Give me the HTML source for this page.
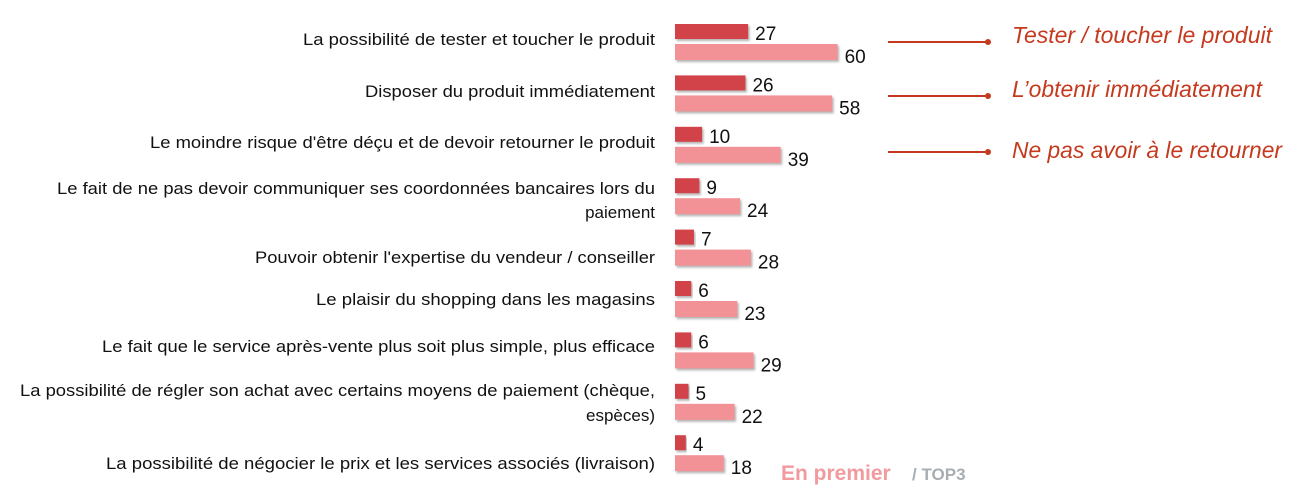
<!DOCTYPE html>
<html><head><meta charset="utf-8"><style>
html,body{margin:0;padding:0;background:#fff;}
svg{display:block;font-family:"Liberation Sans",Arial,sans-serif;}
</style></head><body>
<svg id="chart" width="1308" height="496" viewBox="0 0 1308 496">
<defs><filter id="sh" x="-5%" y="-20%" width="115%" height="160%"><feDropShadow dx="1.5" dy="2" stdDeviation="1" flood-color="#777" flood-opacity="0.55"/></filter></defs>
<g id="labels"></g><g id="bars"></g>
<g fill="#c53a1e" stroke="#c53a1e">
<line x1="888" y1="42" x2="988" y2="42" stroke-width="2"/><circle cx="988" cy="42" r="3" stroke="none"/>
<text x="1012" y="43" font-size="23" font-style="italic" stroke="none" textLength="260" lengthAdjust="spacingAndGlyphs">Tester / toucher le produit</text>
<line x1="888" y1="96" x2="988" y2="96" stroke-width="2"/><circle cx="988" cy="96" r="3" stroke="none"/>
<text x="1012" y="97" font-size="23" font-style="italic" stroke="none" textLength="250" lengthAdjust="spacingAndGlyphs">L’obtenir immédiatement</text>
<line x1="888" y1="152" x2="988" y2="152" stroke-width="2"/><circle cx="988" cy="152" r="3" stroke="none"/>
<text x="1012" y="158" font-size="23" font-style="italic" stroke="none" textLength="270" lengthAdjust="spacingAndGlyphs">Ne pas avoir à le retourner</text>
</g>
<g font-weight="bold">
<text x="781" y="480" font-size="21" fill="#f29a9e">En premier</text>
<text x="912" y="480" font-size="17" fill="#a8adb3">/ TOP3</text>
</g>
</svg>
<script>
const categories=[
["La possibilité de tester et toucher le produit"],
["Disposer du produit immédiatement"],
["Le moindre risque d'être déçu et de devoir retourner le produit"],
["Le fait de ne pas devoir communiquer ses coordonnées bancaires lors du","paiement"],
["Pouvoir obtenir l'expertise du vendeur / conseiller"],
["Le plaisir du shopping dans les magasins"],
["Le fait que le service après-vente plus soit plus simple, plus efficace"],
["La possibilité de régler son achat avec certains moyens de paiement (chèque,","espèces)"],
["La possibilité de négocier le prix et les services associés (livraison)"]];
const enPremier=[27,26,10,9,7,6,6,5,4];
const top3=[60,58,39,24,28,23,29,22,18];
const NS="http://www.w3.org/2000/svg";
const x0=675, k=2.71;
const xs=v=>x0+v*k;
const rowY=i=>24+i*51.4;
const labelWidths=[[352],[290],[505],[598,0],[400],[339],[553],[635,0],[549]];
const labelYs=[[45],[97],[148],[194,218],[263],[305],[352],[396,421],[469]];
const lg=document.getElementById('labels'), bg=document.getElementById('bars');
function mk(tag,a,p){const e=document.createElementNS(NS,tag);for(const q in a)e.setAttribute(q,a[q]);p.appendChild(e);return e;}
categories.forEach((lines,i)=>{
  lines.forEach((ln,j)=>{
    const a={x:655,y:labelYs[i][j],'font-size':17,'text-anchor':'end',fill:'#111'};
    if(labelWidths[i][j]){a.textLength=labelWidths[i][j];a.lengthAdjust='spacingAndGlyphs';}
    const t=mk('text',a,lg);
    
    
    t.textContent=ln;
  });
  const y=rowY(i);
  const b1=mk('rect',{x:x0,y:y,width:xs(enPremier[i])-x0,height:15,fill:'#d2434a',filter:'url(#sh)'},bg);
  
  
  const t1=mk('text',{x:xs(enPremier[i])+7,y:y+16,'font-size':19,fill:'#111'},bg);
  
  
  t1.textContent=enPremier[i];
  const b2=mk('rect',{x:x0,y:y+20,width:xs(top3[i])-x0,height:16,fill:'#f29296',filter:'url(#sh)'},bg);
  
  
  const t2=mk('text',{x:xs(top3[i])+7,y:y+39,'font-size':19,fill:'#111'},bg);
  
  
  t2.textContent=top3[i];
});
</script>
</body></html>
